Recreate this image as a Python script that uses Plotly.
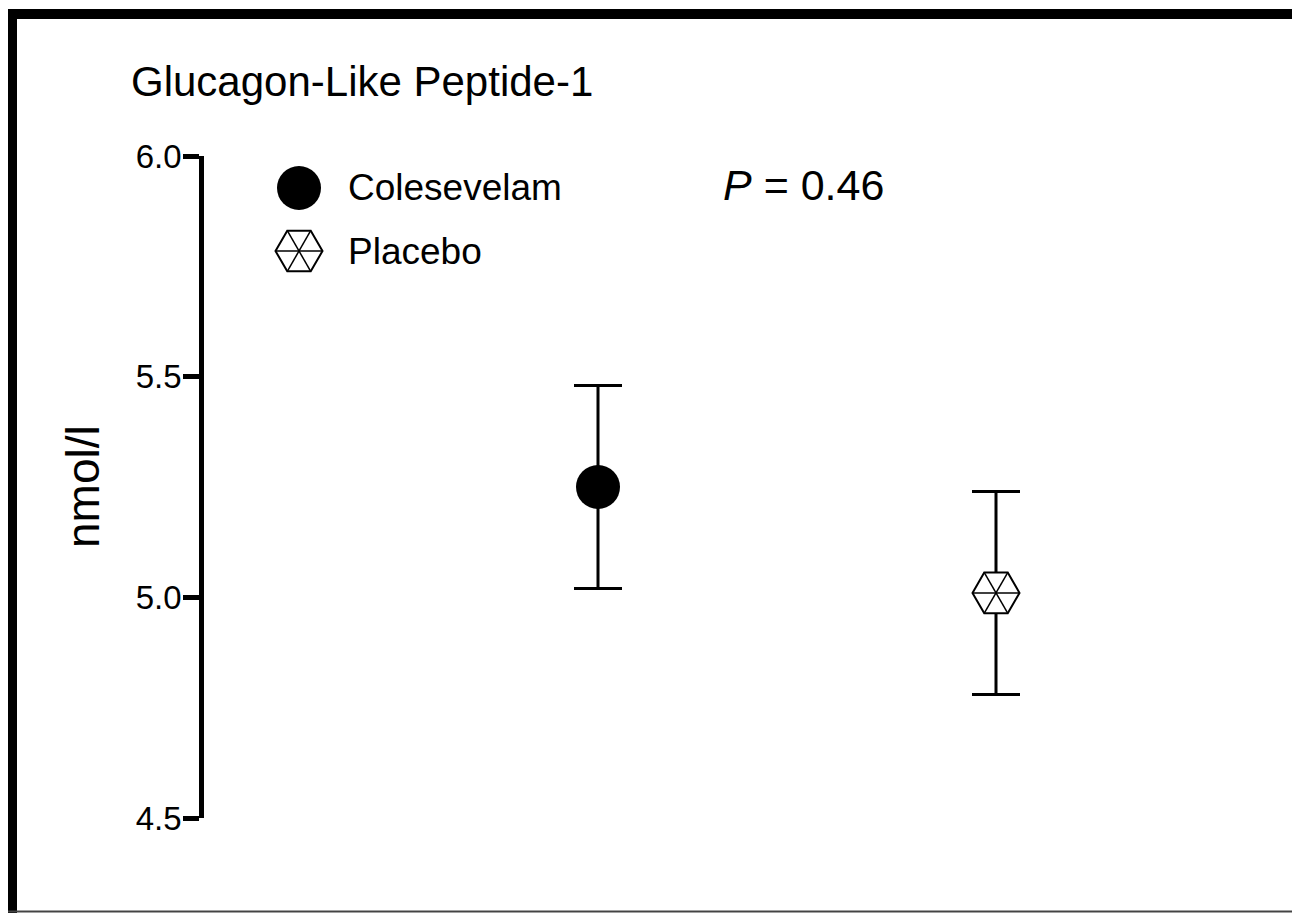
import plotly.graph_objects as go

W, H = 1300, 913
OFF = 8  # default page margin of the HTML body (screen px)

# ---- data ----
groups = ["Colesevelam", "Placebo"]
means = [5.25, 5.01]
sem = [0.23, 0.23]
y_tick_vals = [4.5, 5.0, 5.5, 6.0]
y_tick_text = ["4.5", "5.0", "5.5", "6.0"]
y_range = [4.5, 6.0]
title_text = "Glucagon-Like Peptide-1"
y_title = "nmol/l"
p_text = "<i>P</i> = 0.46"

FONT = "Arial, 'Liberation Sans', Helvetica, sans-serif"


def sx(x):
    """screen x px -> paper coordinate"""
    return (x - OFF) / W


def sy(y):
    """screen y px -> paper coordinate"""
    return 1 - (y - OFF) / H


fig = go.Figure()

err_style = dict(type="data", visible=True, color="black", thickness=3, width=24)

CIRCLE = dict(symbol="circle", size=44, color="black", line=dict(width=0))
HEX = dict(symbol="hexagon2", size=47, color="white", line=dict(width=2, color="black"))
SPOKE_SIZE = 33

# Colesevelam: filled circle
fig.add_trace(go.Scatter(
    x=[groups[0]], y=[means[0]], mode="markers", marker=CIRCLE,
    error_y=dict(array=[sem[0]], **err_style),
    showlegend=False, hoverinfo="skip"))

# Placebo: hexagon with spokes
fig.add_trace(go.Scatter(
    x=[groups[1]], y=[means[1]], mode="markers", marker=HEX,
    error_y=dict(array=[sem[1]], **err_style),
    showlegend=False, hoverinfo="skip"))
for ang in [0, 60, 120]:
    fig.add_trace(go.Scatter(
        x=[groups[1]], y=[means[1]], mode="markers",
        marker=dict(symbol="line-ew", size=SPOKE_SIZE, angle=ang,
                    line=dict(width=1.5, color="black")),
        showlegend=False, hoverinfo="skip"))

# ---- legend glyphs (layout, screen-pixel coords on an overlay subplot) ----
LEG_X = 299
LEG_Y = [188, 251]
fig.add_trace(go.Scatter(
    x=[LEG_X], y=[LEG_Y[0]], xaxis="x2", yaxis="y2", mode="markers",
    marker=CIRCLE, showlegend=False, hoverinfo="skip"))
fig.add_trace(go.Scatter(
    x=[LEG_X], y=[LEG_Y[1]], xaxis="x2", yaxis="y2", mode="markers",
    marker=HEX, showlegend=False, hoverinfo="skip"))
for ang in [0, 60, 120]:
    fig.add_trace(go.Scatter(
        x=[LEG_X], y=[LEG_Y[1]], xaxis="x2", yaxis="y2", mode="markers",
        marker=dict(symbol="line-ew", size=SPOKE_SIZE, angle=ang,
                    line=dict(width=1.5, color="black")),
        showlegend=False, hoverinfo="skip"))

annotations = [
    dict(text=title_text, x=sx(129), y=sy(81), xanchor="left", yanchor="middle",
         font=dict(size=42, color="black", family=FONT)),
    dict(text=p_text, x=sx(721), y=sy(185), xanchor="left", yanchor="middle",
         font=dict(size=43, color="black", family=FONT)),
    dict(text=groups[0], x=sx(346), y=sy(187), xanchor="left", yanchor="middle",
         font=dict(size=37, color="black", family=FONT)),
    dict(text=groups[1], x=sx(346), y=sy(251), xanchor="left", yanchor="middle",
         font=dict(size=37, color="black", family=FONT)),
    dict(text=y_title, x=sx(83), y=sy(487), xanchor="center", yanchor="middle",
         textangle=-90, font=dict(size=46, color="black", family=FONT)),
]
for a in annotations:
    a.update(xref="paper", yref="paper", showarrow=False)

shapes = [
    dict(type="rect", xref="paper", yref="paper", x0=sx(8), x1=1.0, y0=sy(19), y1=sy(9),
         fillcolor="black", line=dict(width=0)),
    dict(type="rect", xref="paper", yref="paper", x0=sx(8), x1=sx(17), y0=0, y1=sy(9),
         fillcolor="black", line=dict(width=0)),
    dict(type="line", xref="paper", yref="paper", x0=0, x1=1, y0=sy(911.5), y1=sy(911.5),
         line=dict(width=2, color="#444")),
]

# plot-area placement (screen px)
AX_LINE_W = 5
x_left = 201.7 + AX_LINE_W / 2     # domain left edge
x_unit = 398                        # px between the two groups
x_first = 598                       # screen x of first group
x0_idx = 0 - (x_first - x_left) / x_unit
x1_idx = x0_idx + (W + OFF - x_left) / x_unit

fig.update_layout(
    template="none",
    width=W, height=H,
    margin=dict(l=0, r=0, t=0, b=0),
    paper_bgcolor="white",
    plot_bgcolor="rgba(0,0,0,0)",
    font=dict(family=FONT, color="black"),
    showlegend=False,
    xaxis=dict(domain=[sx(x_left), 1.0], range=[x0_idx, x1_idx], type="category",
               categoryorder="array", categoryarray=groups,
               visible=False, automargin=False),
    yaxis=dict(domain=[sy(818), sy(156)], range=y_range, tickvals=y_tick_vals,
               ticktext=y_tick_text, ticks="outside", ticklen=16, tickwidth=5,
               tickcolor="black", showline=True, linewidth=AX_LINE_W, linecolor="black",
               showgrid=False, zeroline=False, automargin=False, ticklabelstandoff=-5,
               tickfont=dict(size=33, color="black", family=FONT)),
    xaxis2=dict(domain=[0, 1], range=[OFF, OFF + W], visible=False, anchor="y2",
                automargin=False),
    yaxis2=dict(domain=[0, 1], range=[OFF + H, OFF], visible=False, anchor="x2",
                automargin=False),
    annotations=annotations,
    shapes=shapes,
)

fig.write_html("out.html")
